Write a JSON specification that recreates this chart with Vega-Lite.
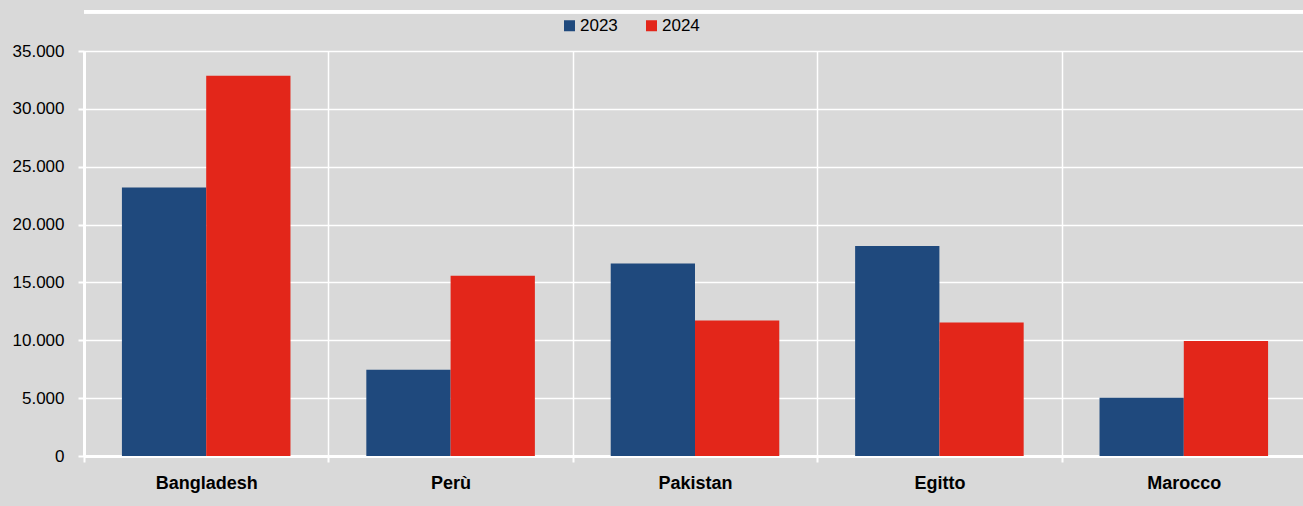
{
  "$schema": "https://vega.github.io/schema/vega-lite/v6.json",
  "width": 1222,
  "height": 405,
  "autosize": "none",
  "padding": {"left": 84, "top": 51, "right": 0, "bottom": 50},
  "background": "#d9d9d9",
  "config": {
    "view": {"stroke": null, "fill": "#d9d9d9"},
    "font": "Liberation Sans, Arial",
    "locale": {"number": {"decimal": ",", "thousands": ".", "grouping": [3], "currency": ["€", ""]}}
  },
  "data": {
    "values": [
      {"country": "Bangladesh", "year": "2023", "value": 23200},
      {"country": "Bangladesh", "year": "2024", "value": 32870},
      {"country": "Perù", "year": "2023", "value": 7450},
      {"country": "Perù", "year": "2024", "value": 15580},
      {"country": "Pakistan", "year": "2023", "value": 16640},
      {"country": "Pakistan", "year": "2024", "value": 11710},
      {"country": "Egitto", "year": "2023", "value": 18150},
      {"country": "Egitto", "year": "2024", "value": 11540},
      {"country": "Marocco", "year": "2023", "value": 5040},
      {"country": "Marocco", "year": "2024", "value": 9940}
    ]
  },
  "layer": [
    {
      "mark": {"type": "bar"},
      "encoding": {
        "x": {
          "field": "country",
          "type": "nominal",
          "sort": ["Bangladesh", "Perù", "Pakistan", "Egitto", "Marocco"],
          "scale": {"paddingInner": 0, "paddingOuter": 0},
          "axis": {
            "title": null,
            "labelAngle": 0,
            "tickBand": "extent",
            "grid": true,
            "gridColor": "white",
            "gridWidth": 1.5,
            "domainColor": "white",
            "domainWidth": 3,
            "tickColor": "white",
            "tickWidth": 2,
            "tickSize": 6,
            "labelFontSize": 18,
            "labelFontWeight": "bold",
            "labelColor": "black",
            "labelPadding": 12
          }
        },
        "xOffset": {
          "field": "year",
          "type": "nominal",
          "scale": {"paddingInner": 0, "paddingOuter": 0.45}
        },
        "y": {
          "field": "value",
          "type": "quantitative",
          "scale": {"domain": [0, 35000], "nice": false},
          "axis": {
            "title": null,
            "values": [0, 5000, 10000, 15000, 20000, 25000, 30000, 35000],
            "format": ",.0f",
            "gridColor": "white",
            "gridWidth": 1.5,
            "domainColor": "white",
            "domainWidth": 3,
            "tickColor": "white",
            "tickWidth": 2,
            "tickSize": 6,
            "labelFontSize": 17,
            "labelColor": "black",
            "labelPadding": 14
          }
        },
        "color": {
          "field": "year",
          "type": "nominal",
          "scale": {"domain": ["2023", "2024"], "range": ["#1f497d", "#e3261a"]},
          "legend": {
            "title": null,
            "orient": "none",
            "legendX": 477,
            "legendY": -34,
            "direction": "horizontal",
            "symbolType": "square",
            "symbolSize": 121,
            "symbolStrokeWidth": 0,
            "labelFontSize": 17,
            "labelColor": "black",
            "columnPadding": 25,
            "labelOffset": 2
          }
        }
      }
    },
    {
      "mark": {"type": "rule", "color": "white", "strokeWidth": 3, "clip": false},
      "encoding": {"y": {"datum": 38400}}
    }
  ]
}
